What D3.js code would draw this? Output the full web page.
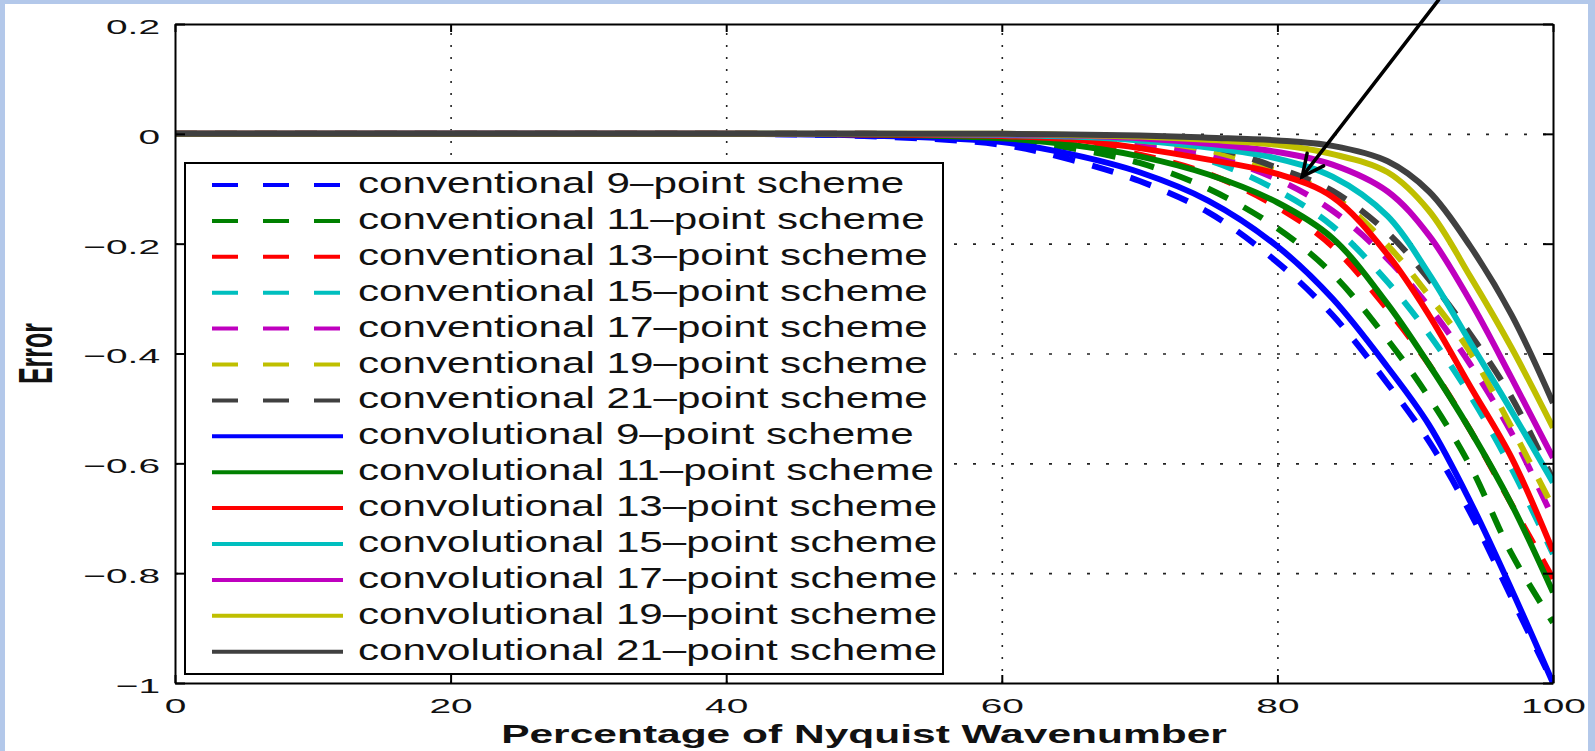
<!DOCTYPE html>
<html>
<head>
<meta charset="utf-8">
<script src="https://cdn.jsdelivr.net/npm/d3@7"></script>
<style>
  body { margin: 0; background: #b3c8ea; }
  svg { display: block; }
</style>
</head>
<body>
<div id="chart"></div>
<script>
// x positions (percentage of Nyquist wavenumber) shared by every series
const X_VALUES = [0, 40, 50, 60, 65, 70, 75, 80, 84, 88, 91, 94, 97, 100];

// conventional schemes (dashed)
const CONV_9  = [0, 0, -0.004, -0.020, -0.047, -0.086, -0.143, -0.234, -0.330, -0.455, -0.560, -0.690, -0.845, -1.000];
const CONV_11 = [0, 0, -0.002, -0.010, -0.026, -0.053, -0.100, -0.172, -0.255, -0.375, -0.480, -0.605, -0.765, -0.890];
const CONV_13 = [0, 0, -0.001, -0.007, -0.017, -0.038, -0.073, -0.133, -0.205, -0.320, -0.420, -0.540, -0.675, -0.810];
const CONV_15 = [0, 0, -0.001, -0.005, -0.011, -0.022, -0.048, -0.103, -0.168, -0.270, -0.365, -0.477, -0.610, -0.765];
const CONV_17 = [0, 0, 0, -0.004, -0.008, -0.017, -0.038, -0.083, -0.140, -0.228, -0.315, -0.420, -0.545, -0.700];
const CONV_19 = [0, 0, 0, -0.002, -0.005, -0.012, -0.030, -0.068, -0.112, -0.203, -0.295, -0.398, -0.535, -0.680];
const CONV_21 = [0, 0, 0, -0.001, -0.003, -0.008, -0.022, -0.062, -0.104, -0.180, -0.265, -0.365, -0.480, -0.630];

// convolutional schemes (solid)
const CONVL_9  = [0, 0, -0.003, -0.015, -0.037, -0.070, -0.122, -0.205, -0.300, -0.425, -0.530, -0.670, -0.830, -1.000];
const CONVL_11 = [0, 0, -0.001, -0.008, -0.020, -0.041, -0.074, -0.125, -0.190, -0.310, -0.420, -0.540, -0.675, -0.835];
const CONVL_13 = [0, 0, -0.001, -0.004, -0.010, -0.026, -0.047, -0.073, -0.115, -0.220, -0.330, -0.460, -0.590, -0.760];
const CONVL_15 = [0, 0, 0, -0.002, -0.005, -0.012, -0.025, -0.045, -0.078, -0.150, -0.255, -0.380, -0.505, -0.635];
const CONVL_17 = [0, 0, 0, -0.001, -0.003, -0.008, -0.018, -0.033, -0.056, -0.105, -0.185, -0.305, -0.445, -0.590];
const CONVL_19 = [0, 0, 0, 0, -0.002, -0.005, -0.011, -0.020, -0.037, -0.070, -0.140, -0.260, -0.390, -0.535];
const CONVL_21 = [0, 0, 0, 0, -0.001, -0.003, -0.007, -0.012, -0.022, -0.050, -0.105, -0.205, -0.330, -0.490];

const SERIES_NAMES = [
    "conventional 9–point scheme", "conventional 11–point scheme", "conventional 13–point scheme",
    "conventional 15–point scheme", "conventional 17–point scheme", "conventional 19–point scheme",
    "conventional 21–point scheme",
    "convolutional 9–point scheme", "convolutional 11–point scheme", "convolutional 13–point scheme",
    "convolutional 15–point scheme", "convolutional 17–point scheme", "convolutional 19–point scheme",
    "convolutional 21–point scheme"
];
const SERIES_VALUES = [CONV_9, CONV_11, CONV_13, CONV_15, CONV_17, CONV_19, CONV_21,
                       CONVL_9, CONVL_11, CONVL_13, CONVL_15, CONVL_17, CONVL_19, CONVL_21];

const X_TICKS = [0, 20, 40, 60, 80, 100];
const Y_TICKS = [-1, -0.8, -0.6, -0.4, -0.2, 0, 0.2];
const Y_TICK_LABELS = ["−1", "−0.8", "−0.6", "−0.4", "−0.2", "0", "0.2"];
const X_TITLE = "Percentage of Nyquist Wavenumber";
const Y_TITLE = "Error";
// arrow annotation, in data units
const ARROW_FROM = [91.7, 0.244];
const ARROW_TO = [81.8, -0.078];

// styles
const COLORS = ["#0000ff", "#008000", "#ff0000", "#00bfbf", "#bf00bf", "#bfbf00", "#404040"];
const FONT = "'Liberation Sans', Arial, sans-serif";
const TICK_SX = 1.85;
const LEGEND_SX = 1.455;

const WIDTH = 1595;
const HEIGHT = 751;
const LEFT = 175, RIGHT = 1553, TOP = 24, BOTTOM = 683;

const svg = d3.select('#chart').append('svg')
    .attr('width', WIDTH)
    .attr('height', HEIGHT);

svg.append('rect')
   .attr('x', 5).attr('y', 4)
   .attr('width', 1583).attr('height', HEIGHT - 4)
   .attr('fill', '#ffffff');

const xScale = d3.scaleLinear().domain([0, 100]).range([LEFT, RIGHT]);
const yScale = d3.scaleLinear().domain([-1, 0.2]).range([BOTTOM, TOP]);

// dotted grid
svg.append('g')
   .attr('transform', 'translate(0,' + BOTTOM + ')')
   .call(d3.axisBottom(xScale).tickValues([20, 40, 60, 80]).tickSize(-(BOTTOM - TOP)).tickFormat(''))
   .call(g => g.select('.domain').remove())
   .selectAll('line')
   .attr('stroke', '#222').attr('stroke-width', 1.6).attr('stroke-dasharray', '2,10');

svg.append('g')
   .attr('transform', 'translate(' + LEFT + ',0)')
   .call(d3.axisLeft(yScale).tickValues([-0.8, -0.6, -0.4, -0.2, 0]).tickSize(-(RIGHT - LEFT)).tickFormat(''))
   .call(g => g.select('.domain').remove())
   .selectAll('line')
   .attr('stroke', '#222').attr('stroke-width', 1.6).attr('stroke-dasharray', '3,16');

// curves
svg.append('clipPath').attr('id', 'plotclip')
   .append('rect')
   .attr('x', LEFT).attr('y', TOP)
   .attr('width', RIGHT - LEFT).attr('height', BOTTOM - TOP);

const line = d3.line()
    .x((d, i) => xScale(X_VALUES[i]))
    .y(d => yScale(d))
    .curve(d3.curveCatmullRom.alpha(0.5));

svg.append('g')
   .attr('clip-path', 'url(#plotclip)')
   .selectAll('path')
   .data(SERIES_VALUES)
   .enter()
   .append('path')
   .attr('d', d => line(d))
   .attr('fill', 'none')
   .attr('stroke', (d, i) => COLORS[i % 7])
   .attr('stroke-width', 6)
   .attr('stroke-dasharray', (d, i) => i < 7 ? '22,18' : null);

// axes with inward ticks
const xAxis = d3.axisBottom(xScale).tickValues(X_TICKS)
    .tickSizeInner(-8).tickSizeOuter(0).tickPadding(15).tickFormat(d3.format('d'));
const yAxis = d3.axisLeft(yScale).tickValues(Y_TICKS)
    .tickSizeInner(-10).tickSizeOuter(0).tickPadding(8)
    .tickFormat((d, i) => Y_TICK_LABELS[i]);

function styleAxis(g) {
    g.attr('font-family', FONT).attr('font-size', 21);
    g.select('.domain').attr('stroke', '#000').attr('stroke-width', 2);
    g.selectAll('.tick line').attr('stroke', '#000').attr('stroke-width', 2);
    g.selectAll('.tick text').attr('fill', '#111');
}

svg.append('g')
   .attr('transform', 'translate(0,' + BOTTOM + ')')
   .call(xAxis)
   .call(styleAxis)
   .selectAll('.tick text')
   .attr('transform', 'scale(' + TICK_SX + ',1)');

svg.append('g')
   .attr('transform', 'translate(' + LEFT + ',0)')
   .call(yAxis)
   .call(styleAxis)
   .selectAll('.tick text')
   .attr('x', -15 / TICK_SX)
   .attr('dy', '0.45em')
   .attr('transform', 'scale(' + TICK_SX + ',1)');

svg.append('g')
   .attr('transform', 'translate(0,' + TOP + ')')
   .call(d3.axisTop(xScale).tickValues(X_TICKS).tickSizeInner(-8).tickSizeOuter(0).tickFormat(''))
   .call(styleAxis);

svg.append('g')
   .attr('transform', 'translate(' + RIGHT + ',0)')
   .call(d3.axisRight(yScale).tickValues(Y_TICKS).tickSizeInner(-10).tickSizeOuter(0).tickFormat(''))
   .call(styleAxis);

// axis titles
svg.append('text')
   .attr('transform', 'translate(' + ((LEFT + RIGHT) / 2) + ',743) scale(1.7,1)')
   .attr('text-anchor', 'middle')
   .attr('font-family', FONT)
   .attr('font-weight', 'bold')
   .attr('font-size', 25)
   .attr('fill', '#111')
   .text(X_TITLE);

svg.append('text')
   .attr('transform', 'translate(52,' + ((TOP + BOTTOM) / 2) + ') scale(1.9,1) rotate(-90)')
   .attr('text-anchor', 'middle')
   .attr('font-family', FONT)
   .attr('font-weight', 'bold')
   .attr('font-size', 25)
   .attr('fill', '#111')
   .text(Y_TITLE);

// legend
const LEGEND_X = 185, LEGEND_Y = 163, LEGEND_W = 758, LEGEND_H = 511;
const ROW_0 = 185, ROW_STEP = 35.9;

const legend = svg.append('g');
legend.append('rect')
      .attr('x', LEGEND_X).attr('y', LEGEND_Y)
      .attr('width', LEGEND_W).attr('height', LEGEND_H)
      .attr('fill', '#fff').attr('stroke', '#000').attr('stroke-width', 2);

const rows = legend.selectAll('g.row')
    .data(SERIES_NAMES)
    .enter()
    .append('g')
    .attr('class', 'row')
    .attr('transform', (d, i) => 'translate(0,' + (ROW_0 + i * ROW_STEP) + ')');

rows.append('line')
    .attr('x1', 212).attr('x2', 343)
    .attr('stroke', (d, i) => COLORS[i % 7])
    .attr('stroke-width', 4)
    .attr('stroke-dasharray', (d, i) => i < 7 ? '26,25' : null);

rows.append('text')
    .attr('transform', 'translate(358,8) scale(' + LEGEND_SX + ',1)')
    .attr('font-family', FONT)
    .attr('font-size', 29)
    .attr('fill', '#111')
    .text(d => d);

// arrow annotation
const ax0 = xScale(ARROW_FROM[0]), ay0 = yScale(ARROW_FROM[1]);
const ax1 = xScale(ARROW_TO[0]), ay1 = yScale(ARROW_TO[1]);
const ang = Math.atan2(ay0 - ay1, ax0 - ax1);
const HEAD = 24, SPREAD = 0.45;
const arrow = svg.append('g')
    .attr('stroke', '#000').attr('stroke-width', 3.5)
    .attr('stroke-linecap', 'round').attr('fill', 'none');
arrow.append('line').attr('x1', ax0).attr('y1', ay0).attr('x2', ax1).attr('y2', ay1);
arrow.append('path')
     .attr('d', 'M' + (ax1 + HEAD * Math.cos(ang + SPREAD)) + ',' + (ay1 + HEAD * Math.sin(ang + SPREAD)) +
                'L' + ax1 + ',' + ay1 +
                'L' + (ax1 + HEAD * Math.cos(ang - SPREAD)) + ',' + (ay1 + HEAD * Math.sin(ang - SPREAD)));
</script>
</body>
</html>
